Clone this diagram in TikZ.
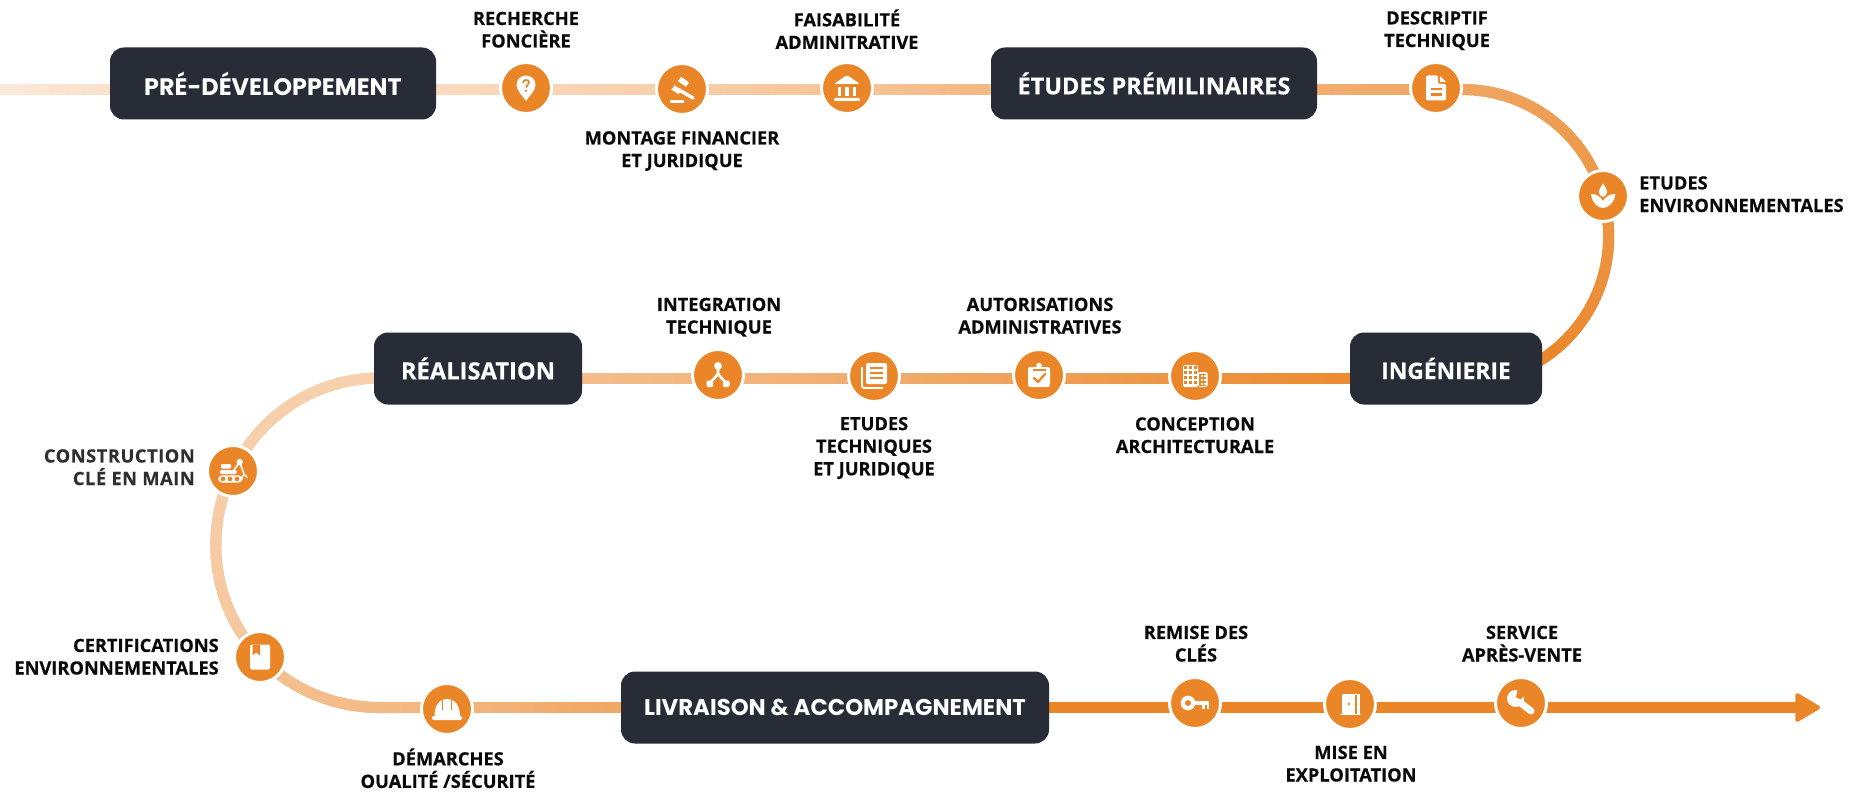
\documentclass[tikz,border=0pt]{standalone}
\usepackage{fontspec}
\setmainfont{Open Sans}[BoldFeatures={FakeBold=0.4}]
\newfontfamily\hdrfont{Poppins}
\usetikzlibrary{decorations.markings,arrows.meta}
\definecolor{brand}{HTML}{EA8528}
\definecolor{navy}{HTML}{272C37}
\definecolor{ink}{HTML}{0A0A0A}
\pgfdeclarelayer{bg}
\pgfsetlayers{bg,main}
\tikzset{
  x=0.75pt,y=-0.75pt,
  stagebox/.style={rectangle,rounded corners=10.5pt,fill=navy,text=white,inner sep=0pt,font=\fontsize{17.6}{20}\selectfont\bfseries},
  milestone/.style={circle,fill=brand,draw=white,line width=2.25pt,minimum size=38.25pt,inner sep=0pt},
  lab/.style={text=ink,align=center,inner sep=0pt,font=\fontsize{13.7}{16.9}\selectfont\bfseries,
    execute at begin node=\strut,execute at end node=\strut},
  labl/.style={lab,align=left,anchor=west},
  labr/.style={lab,align=right,anchor=east},
  grad/.style 2 args={line width=8.25pt,draw=brand!#1!white,
    postaction={decorate,decoration={markings,
      mark=between positions 0 and 1 step 4pt with {
        \pgfmathsetmacro\pp{#1+(#2-#1)*(\pgfkeysvalueof{/pgf/decoration/mark info/distance from start}/\pgfdecoratedpathlength)}
        \fill[brand!\pp!white] (-2.8pt,-4.125pt) rectangle (2.8pt,4.125pt);
      }}}},
  ipin/.pic={
    \fill[white] (0,13) .. controls (-3,8) and (-9.5,3) .. (-9.5,-3) .. controls (-9.5,-9) and (-5,-12.5) .. (0,-12.5) .. controls (5,-12.5) and (9.5,-9) .. (9.5,-3) .. controls (9.5,3) and (3,8) .. (0,13) -- cycle;
    \draw[brand,line width=1.3pt] (-3,-5) .. controls (-3,-9) and (3,-9) .. (3,-5.5) .. controls (3,-3) and (0,-3) .. (0,-0.5);
    \fill[brand] (0,2.8) circle[radius=1.4];
  },
  igavel/.pic={
    \draw[white,line width=4pt] (-2.5,-10) -- (5.5,-4.5);
    \draw[white,line width=4pt] (-9,-1.5) -- (-2,3);
    \draw[white,line width=2.6pt,line cap=round] (-3,1) -- (11,9);
    \fill[white] (-12,11.5) rectangle (2,13.8);
  },
  ibank/.pic={
    \fill[white,rounded corners=1pt] (-13,-4) -- (0,-13) -- (13,-4) -- cycle;
    \foreach \c in {-7.5,0,7.5} {\fill[white] (\c-1.6,-1) rectangle (\c+1.6,8);}
    \fill[white,rounded corners=0.8pt] (-13,10) rectangle (13,13);
  },
  idoc/.pic={
    \fill[white,rounded corners=1.5pt] (-10,-12.5) -- (2,-12.5) -- (2,-4) -- (10,-4) -- (10,12.5) -- (-10,12.5) -- cycle;
    \fill[white] (4,-12) -- (10,-6) -- (4,-6) -- cycle;
    \fill[brand] (-5.5,0) rectangle (5.5,2.2);
    \fill[brand] (-5.5,5.5) rectangle (5.5,7.7);
  },
  ileaf/.pic={
    \fill[white] (-12,-2) .. controls (-11,7) and (-5,12) .. (0,12) .. controls (5,12) and (11,7) .. (12.5,-2) .. controls (7,-2) and (3,0) .. (0,5) .. controls (-3,0) and (-7,-2) .. (-12,-2) -- cycle;
    \fill[white] (0,-12.5) .. controls (2,-9) and (4.2,-7) .. (4.2,-4) .. controls (4.2,-1) and (2,0) .. (0,1) .. controls (-2,0) and (-4.2,-1) .. (-4.2,-4) .. controls (-4.2,-7) and (-2,-9) .. (0,-12.5) -- cycle;
  },
  ibuilding/.pic={
    \fill[white,rounded corners=1pt] (-12,-11) rectangle (3,11);
    \fill[white,rounded corners=1pt] (3,-4) rectangle (12.5,11);
    \fill[brand] (4,-2.5) rectangle (11,9.5);
    \foreach \c in {-9.5,-4.5,0.5} \foreach \r in {-8.5,-3.5,1.5,6.5} {\fill[brand] (\c-1.1,\r-1.1) rectangle (\c+1.1,\r+1.1);}
    \foreach \r in {0,4,8} {\fill[white] (5.5,\r-1) rectangle (7.5,\r+1); \fill[white] (8.5,\r-1) rectangle (10.5,\r+1);}
  },
  iclip/.pic={
    \fill[white,rounded corners=1.5pt] (-11,-8) rectangle (11,12);
    \fill[white] (0,-9.5) circle[radius=2.8];
    \fill[brand] (-6.5,-6) rectangle (6.5,-4.5);
    \draw[brand,line width=1.7pt,line cap=round,line join=round] (-5,3) -- (-1,7) -- (6,-1);
  },
  istack/.pic={
    \fill[white,rounded corners=1.5pt] (-8,-13) rectangle (13,8);
    \foreach \r in {-8,-3,2} {\fill[brand] (-4,\r-1) rectangle (9,\r+1);}
    \draw[white,line width=1.3pt,rounded corners=1.5pt] (-12,-9) -- (-12,12) -- (9,12);
  },
  inet/.pic={
    \draw[white,line width=2pt] (0,-9) -- (0,-1) -- (-8,8);
    \draw[white,line width=2pt] (0,-1) -- (8,8);
    \fill[white] (0,-9) circle[radius=4];
    \fill[white,rounded corners=0.8pt] (-11.5,5.5) rectangle (-5,12);
    \fill[white,rounded corners=0.8pt] (5,5.5) rectangle (11.5,12);
  },
  iexc/.pic={
    \fill[white,rounded corners=3pt] (-15,4.3) rectangle (9.5,11.5);
    \foreach \c in {-10,-3,4} {\fill[brand] (\c,7.9) circle[radius=2.4];}
    \fill[white,rounded corners=0.8pt] (-12,-7) rectangle (-2,-2.5);
    \fill[white,rounded corners=0.8pt] (-13,-1) rectangle (3.5,3);
    \draw[white,line width=1.2pt] (1,-1) -- (6.7,-9) -- (11,3);
    \fill[white] (6.7,-9) circle[radius=3.2];
    \draw[white,line width=1.1pt] (9,8) .. controls (9,3) and (13,2) .. (14,7);
  },
  ibook/.pic={
    \fill[white,rounded corners=1.5pt] (-10,-12.5) rectangle (10,12.5);
    \fill[brand] (-7.5,-12.5) -- (0,-12.5) -- (0,-1.5) -- (-3.7,-4.5) -- (-7.5,-1.5) -- cycle;
  },
  ihat/.pic={
    \fill[white] (-12.5,7) .. controls (-12.5,-3) and (-8,-10) .. (0,-10) .. controls (8,-10) and (13,-3) .. (13,7) -- cycle;
    \fill[white,rounded corners=1pt] (-15,7) rectangle (15,11);
    \fill[brand] (-5.2,-9) rectangle (-4,1);
    \fill[brand] (4,-9) rectangle (5.2,1);
  },
  ikey/.pic={
    \fill[white] (-7,0) circle[radius=7.3];
    \fill[white] (-2,-2.3) rectangle (14,2.3);
    \fill[white] (7,0) rectangle (9.5,5.5);
    \fill[white] (11.5,0) rectangle (14,5.5);
    \fill[brand] (-7,0) circle[radius=3];
  },
  idoor/.pic={
    \fill[white] (-8,-10.5) -- (10,-10.5) -- (10,9.5) -- (-8,9.5) -- cycle;
    \fill[white] (-10.5,9.5) rectangle (11,11.2);
    \fill[brand] (5,-8.8) -- (6.5,-8.8) -- (6.5,9.5) -- (5,9.5) -- cycle;
    \fill[brand] (-1.3,0) circle[radius=1.3];
  },
  iwrench/.pic={
    \draw[white,line width=5.2pt,line cap=round] (-3,-2) -- (10,8);
    \fill[white] (-5.5,-4.5) circle[radius=8.5];
    \fill[brand] (-5,-6) -- (-3,-15) -- (6,-10) -- (-0.5,-3.5) -- cycle;
  }
}
\begin{document}
\begin{tikzpicture}
\useasboundingbox (0,0) rectangle (1865,795);
\begin{pgfonlayer}{bg}
\fill[white] (0,0) rectangle (1865,795);
\end{pgfonlayer}

% row levels
\coordinate (r1) at (0,89.5);
\coordinate (r2) at (0,378);
\coordinate (r3) at (0,707.5);

% stages
\node[stagebox,minimum width=244.5pt,minimum height=54pt,font=\hdrfont\fontsize{17.9}{20}\selectfont\bfseries] (pre) at (273,83.5) {PRÉ-DÉVELOPPEMENT};
\node[stagebox,minimum width=244.5pt,minimum height=54pt] (etu) at (1154,83.5) {ÉTUDES PRÉMILINAIRES};
\node[stagebox,minimum width=144pt,minimum height=54pt,font=\fontsize{17.1}{20}\selectfont\bfseries] (ing) at (1446,368.5) {INGÉNIERIE};
\node[stagebox,minimum width=156pt,minimum height=54pt,font=\fontsize{17.8}{20}\selectfont\bfseries] (rea) at (478,368.5) {RÉALISATION};
\node[stagebox,minimum width=321pt,minimum height=54pt,font=\hdrfont\fontsize{17.1}{20}\selectfont\bfseries] (liv) at (835,707.5) {LIVRAISON \& ACCOMPAGNEMENT};

% milestones
\node[milestone] (pin) at (526,88) {};
\node[milestone] (gav) at (682,89) {};
\node[milestone] (ban) at (847,88) {};
\node[milestone] (des) at (1436,88) {};
\node[milestone] (env) at (1603,196) {};
\node[milestone] (con) at (1195,376) {};
\node[milestone] (aut) at (1039,375) {};
\node[milestone] (tec) at (874,376) {};
\node[milestone] (int) at (718,375) {};
\node[milestone] (cle) at (233,471) {};
\node[milestone] (cer) at (260,657) {};
\node[milestone] (dem) at (447,709) {};
\node[milestone] (key) at (1195,703) {};
\node[milestone] (doo) at (1350,704) {};
\node[milestone] (ser) at (1521,703) {};

% icons
\pic at (pin) {ipin};
\pic at (gav) {igavel};
\pic at (ban) {ibank};
\pic at (des) {idoc};
\pic at (env) {ileaf};
\pic at (con) {ibuilding};
\pic at (aut) {iclip};
\pic at (tec) {istack};
\pic at (int) {inet};
\pic at (cle) {iexc};
\pic at (cer) {ibook};
\pic at (dem) {ihat};
\pic at (key) {ikey};
\pic at (doo) {idoor};
\pic at (ser) {iwrench};

% free ends of the path
\coordinate (startpt) at (0,89.5);
\coordinate (arcA) at (1462,89.5);
\coordinate (ingR) at (1522,370);
\coordinate (arcB) at (380,378);
\coordinate (arcC) at (380,707.5);
\coordinate (tip) at (1820,707.5);

% connectors
\begin{pgfonlayer}{bg}
\draw[grad={18}{24}] (startpt) -- (pre.west |- r1);
\draw[grad={30}{33}] (pre.east |- r1) -- (pin.center |- r1);
\draw[grad={33}{40}] (pin.center |- r1) -- (gav.center |- r1);
\draw[grad={40}{48}] (gav.center |- r1) -- (ban.center |- r1);
\draw[grad={48}{58}] (ban.center |- r1) -- (etu.west |- r1);
\draw[grad={66}{72}] (etu.east |- r1) -- (des.center |- r1);
\draw[grad={72}{85}] (des.center |- r1) -- (arcA) .. controls (1527.8,89.5) and (1585.1,132.7) .. (env.center);
\draw[grad={85}{100}] (env.center) .. controls (1622.9,266.3) and (1588.8,340.2) .. (ingR);
\draw[grad={95}{88}] (ing.west |- r2) -- (con.center |- r2);
\draw[grad={88}{78}] (con.center |- r2) -- (aut.center |- r2);
\draw[grad={78}{68}] (aut.center |- r2) -- (tec.center |- r2);
\draw[grad={68}{60}] (tec.center |- r2) -- (int.center |- r2);
\draw[grad={60}{54}] (int.center |- r2) -- (rea.east |- r2);
\draw[grad={38}{40}] (arcB) .. controls (316.9,378) and (260.6,414.3) .. (cle.center);
\draw[grad={40}{46}] (cle.center) .. controls (202.9,532.9) and (212.7,607.1) .. (cer.center);
\draw[grad={50}{60}] (cer.center) .. controls (291.2,689.8) and (334.7,707.5) .. (arcC) -- (dem.center |- r3);
\draw[grad={60}{72}] (dem.center |- r3) -- (liv.west |- r3);
\draw[grad={100}{100}] (liv.east |- r3) -- (key.center |- r3);
\draw[grad={100}{100}] (key.center |- r3) -- (doo.center |- r3);
\draw[grad={100}{100}] (doo.center |- r3) -- (ser.center |- r3);
\draw[line width=8.25pt,draw=brand,-{Triangle[round,length=20pt,width=23pt,line width=3pt]}] (ser.center |- r3) -- (tip);
\end{pgfonlayer}

% labels
\node[lab] (l1) at (526,33) {RECHERCHE\\FONCIÈRE};
\node[lab] (l2) at (682,152.5) {MONTAGE FINANCIER\\ET JURIDIQUE};
\node[lab] (l3) at (847,32.5) {FAISABILITÉ\\ADMINITRATIVE};
\node[lab] (l4) at (1437,32.5) {DESCRIPTIF\\TECHNIQUE};
\node[labl] (l5) at (1639,197.5) {ETUDES\\ENVIRONNEMENTALES};
\node[lab] (l6) at (719,319) {INTEGRATION\\TECHNIQUE};
\node[lab] (l7) at (874,449.5) {ETUDES\\TECHNIQUES\\ET JURIDIQUE};
\node[lab] (l8) at (1040,319) {AUTORISATIONS\\ADMINISTRATIVES};
\node[lab] (l9) at (1195,438.5) {CONCEPTION\\ARCHITECTURALE};
\node[labr,text=ink!85!white,font=\fontsize{13.7}{16.9}\selectfont\addfontfeature{LetterSpace=3}\bfseries] (l10) at (195,470.5) {CONSTRUCTION\\CLÉ EN MAIN};
\node[labr] (l11) at (219,660) {CERTIFICATIONS\\ENVIRONNEMENTALES};
\node[lab] (l12) at (448,771.5) {DÉMARCHES\\OUALITÉ /SÉCURITÉ};
\node[lab] (l13) at (1196,647) {REMISE DES\\CLÉS};
\node[lab] (l14) at (1351,767) {MISE EN\\EXPLOITATION};
\node[lab] (l15) at (1522,647) {SERVICE\\APRÈS-VENTE};
\end{tikzpicture}
\end{document}
